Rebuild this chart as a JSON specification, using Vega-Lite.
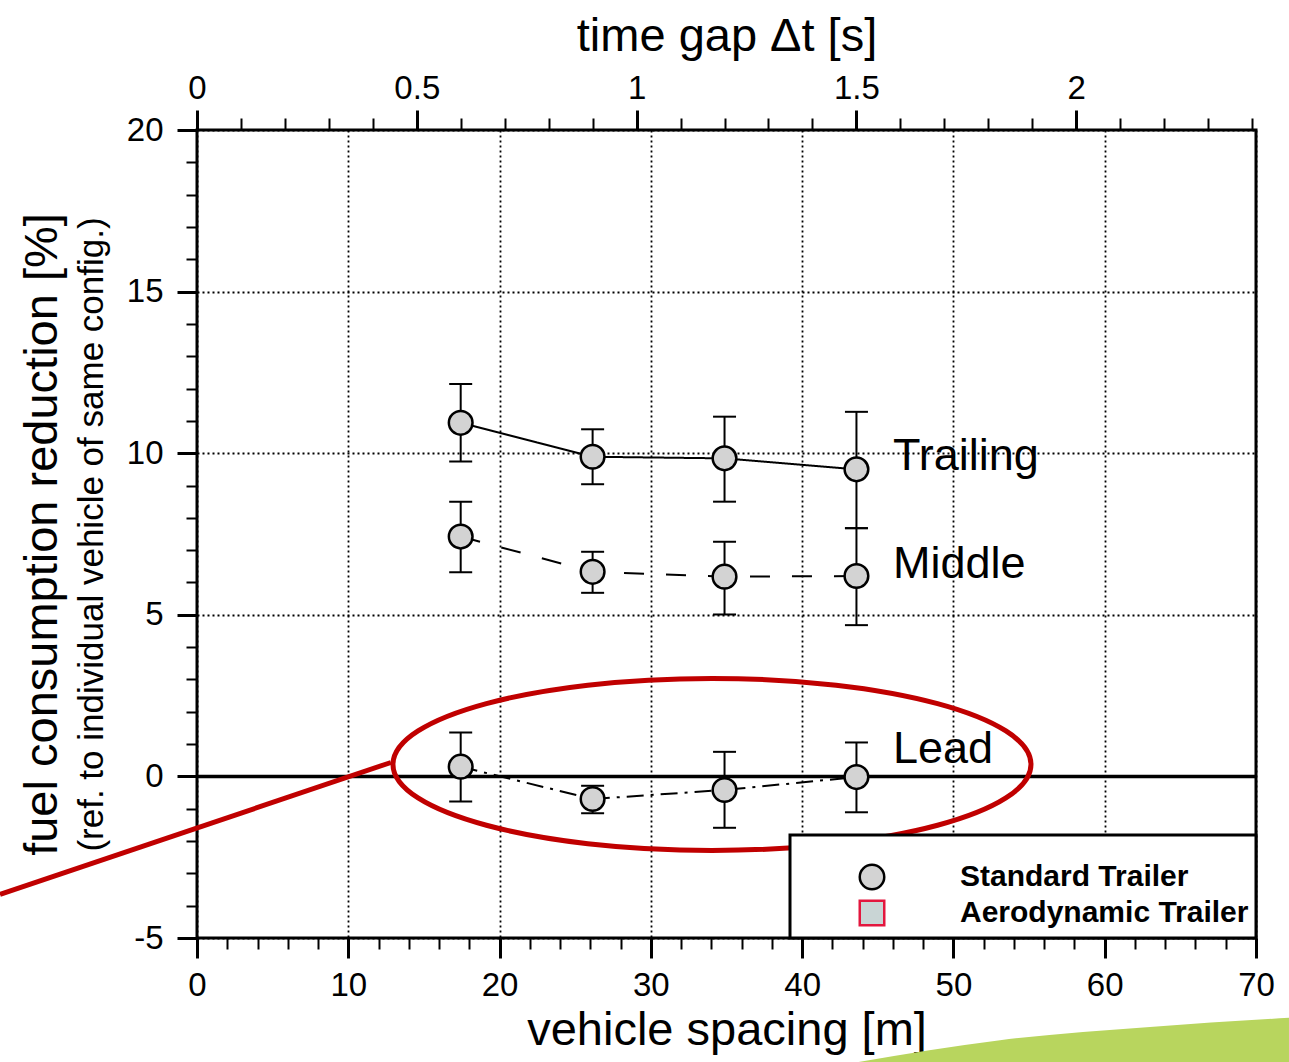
{
  "$schema": "https://vega.github.io/schema/vega-lite/v6.json",
  "width": 1059,
  "height": 808,
  "autosize": "none",
  "padding": {"left": 197, "top": 130, "right": 33, "bottom": 124},
  "background": "white",
  "config": {
    "font": "Liberation Sans",
    "view": {"stroke": "black", "strokeWidth": 3},
    "axis": {
      "domain": false,
      "tickColor": "black",
      "labelColor": "black",
      "titleColor": "black",
      "labelFont": "Liberation Sans",
      "titleFont": "Liberation Sans",
      "titleFontWeight": "normal",
      "labelFontSize": 33,
      "titleFontSize": 47,
      "labelFlush": false,
      "labelOverlap": false,
      "gridColor": "black",
      "gridDash": [2, 3],
      "gridWidth": 1.8,
      "gridOpacity": 1
    },
    "legend": {
      "orient": "bottom-right",
      "offset": 0,
      "padding": 7,
      "strokeColor": "black",
      "strokeWidth": 3,
      "fillColor": "white",
      "labelFont": "Liberation Sans",
      "labelFontWeight": "bold",
      "labelFontSize": 30,
      "labelColor": "black",
      "labelOffset": 73,
      "labelLimit": 500,
      "symbolOffset": 60,
      "symbolSize": 600,
      "symbolStrokeWidth": 2.5,
      "rowPadding": 0,
      "titleFontSize": 20,
      "titlePadding": 0
    }
  },
  "datasets": {
    "pts": [
      {"series": "Trailing", "trailer": "Standard Trailer", "timegap": 0.6, "spacing": 17.43, "value": 10.94, "lo": 9.74, "hi": 12.14},
      {"series": "Trailing", "trailer": "Standard Trailer", "timegap": 0.9, "spacing": 26.15, "value": 9.89, "lo": 9.04, "hi": 10.74},
      {"series": "Trailing", "trailer": "Standard Trailer", "timegap": 1.2, "spacing": 34.87, "value": 9.84, "lo": 8.5, "hi": 11.13},
      {"series": "Trailing", "trailer": "Standard Trailer", "timegap": 1.5, "spacing": 43.59, "value": 9.5, "lo": 7.68, "hi": 11.28},
      {"series": "Middle", "trailer": "Standard Trailer", "timegap": 0.6, "spacing": 17.43, "value": 7.42, "lo": 6.32, "hi": 8.5},
      {"series": "Middle", "trailer": "Standard Trailer", "timegap": 0.9, "spacing": 26.15, "value": 6.33, "lo": 5.68, "hi": 6.95},
      {"series": "Middle", "trailer": "Standard Trailer", "timegap": 1.2, "spacing": 34.87, "value": 6.18, "lo": 5.01, "hi": 7.26},
      {"series": "Middle", "trailer": "Standard Trailer", "timegap": 1.5, "spacing": 43.59, "value": 6.2, "lo": 4.68, "hi": 7.68},
      {"series": "Lead", "trailer": "Standard Trailer", "timegap": 0.6, "spacing": 17.43, "value": 0.3, "lo": -0.78, "hi": 1.36},
      {"series": "Lead", "trailer": "Standard Trailer", "timegap": 0.9, "spacing": 26.15, "value": -0.7, "lo": -1.14, "hi": -0.29},
      {"series": "Lead", "trailer": "Standard Trailer", "timegap": 1.2, "spacing": 34.87, "value": -0.42, "lo": -1.59, "hi": 0.76},
      {"series": "Lead", "trailer": "Standard Trailer", "timegap": 1.5, "spacing": 43.59, "value": -0.02, "lo": -1.11, "hi": 1.05}
    ],
    "labels": [
      {"label": "Trailing", "lx": 46.0, "ly": 9.48},
      {"label": "Middle", "lx": 46.0, "ly": 6.14},
      {"label": "Lead", "lx": 46.0, "ly": 0.41}
    ],
    "zero": [{"zx1": 0, "zx2": 70, "zy": 0}],
    "ellipse": [{"ex": 34.04, "ey": 0.37}],
    "pointer": [{"x1": -13.02, "y1": -3.65, "x2": 12.82, "y2": 0.43}],
    "decor": [
      {"gx": 43.69, "gy": -8.84},
      {"gx": 53.08, "gy": -8.16},
      {"gx": 62.99, "gy": -7.75},
      {"gx": 72.18, "gy": -7.47}
    ]
  },
  "resolve": {
    "scale": {"x": "independent"},
    "axis": {"x": "independent", "y": "independent"}
  },
  "layer": [
    {
      "data": {"name": "pts"},
      "mark": {"type": "point", "opacity": 0},
      "encoding": {
        "x": {"field": "spacing", "type": "quantitative",
          "scale": {"domain": [0, 70], "nice": false, "zero": false},
          "axis": {"orient": "bottom", "values": [0, 10, 20, 30, 40, 50, 60, 70], "tickSize": 20, "tickWidth": 3, "labelPadding": 11, "grid": true, "title": "vehicle spacing [m]", "titlePadding": 5}},
        "y": {"field": "value", "type": "quantitative",
          "scale": {"domain": [-5, 20], "nice": false, "zero": false},
          "axis": {"orient": "left", "values": [-5, 0, 5, 10, 15, 20], "tickSize": 20, "tickWidth": 3, "labelPadding": 14, "labelExpr": "toString(datum.value)", "grid": true, "title": "fuel consumption reduction [%]", "titlePadding": 60}}
      }
    },
    {
      "data": {"name": "pts"},
      "mark": {"type": "point", "opacity": 0},
      "encoding": {
        "x": {"field": "spacing", "type": "quantitative",
          "scale": {"domain": [0, 70], "nice": false, "zero": false},
          "axis": {"orient": "bottom", "values": [2, 4, 6, 8, 12, 14, 16, 18, 22, 24, 26, 28, 32, 34, 36, 38, 42, 44, 46, 48, 52, 54, 56, 58, 62, 64, 66, 68], "tickSize": 11, "tickWidth": 2, "labels": false, "grid": false, "title": null}},
        "y": {"field": "value", "type": "quantitative",
          "scale": {"domain": [-5, 20], "nice": false, "zero": false},
          "axis": {"orient": "left", "values": [-4, -3, -2, -1, 1, 2, 3, 4, 6, 7, 8, 9, 11, 12, 13, 14, 16, 17, 18, 19], "tickSize": 11, "tickWidth": 2, "labels": false, "grid": false, "title": "(ref. to individual vehicle of same config.)", "titleFontSize": 35, "titlePadding": 76}}
      }
    },
    {
      "data": {"name": "pts"},
      "mark": {"type": "point", "opacity": 0},
      "encoding": {
        "x": {"field": "timegap", "type": "quantitative",
          "scale": {"domain": [0, 2.40901], "nice": false, "zero": false},
          "axis": {"orient": "top", "values": [0, 0.5, 1, 1.5, 2], "format": "~g", "tickSize": 20, "tickWidth": 3, "labelPadding": 5, "grid": false, "title": "time gap Δt [s]", "titlePadding": 12}},
        "y": {"field": "value", "type": "quantitative", "axis": null}
      }
    },
    {
      "data": {"name": "pts"},
      "mark": {"type": "point", "opacity": 0},
      "encoding": {
        "x": {"field": "timegap", "type": "quantitative",
          "scale": {"domain": [0, 2.40901], "nice": false, "zero": false},
          "axis": {"orient": "top", "values": [0.1, 0.2, 0.3, 0.4, 0.6, 0.7, 0.8, 0.9, 1.1, 1.2, 1.3, 1.4, 1.6, 1.7, 1.8, 1.9, 2.1, 2.2, 2.3, 2.4], "tickSize": 12, "tickWidth": 2, "labels": false, "grid": false, "title": null}},
        "y": {"field": "value", "type": "quantitative", "axis": null}
      }
    },
    {
      "data": {"name": "zero"},
      "mark": {"type": "rule", "color": "black", "strokeWidth": 3.5},
      "encoding": {
        "x": {"field": "zx1", "type": "quantitative", "scale": {"domain": [0, 70], "nice": false, "zero": false}, "axis": null},
        "x2": {"field": "zx2"},
        "y": {"field": "zy", "type": "quantitative", "axis": null}
      }
    },
    {
      "data": {"name": "pts"},
      "mark": {"type": "rule", "color": "black", "strokeWidth": 2},
      "encoding": {
        "x": {"field": "spacing", "type": "quantitative", "scale": {"domain": [0, 70], "nice": false, "zero": false}, "axis": null},
        "y": {"field": "lo", "type": "quantitative", "axis": null},
        "y2": {"field": "hi"}
      }
    },
    {
      "data": {"name": "pts"},
      "mark": {"type": "tick", "orient": "horizontal", "color": "black", "size": 23, "thickness": 2, "opacity": 1},
      "encoding": {
        "x": {"field": "spacing", "type": "quantitative", "scale": {"domain": [0, 70], "nice": false, "zero": false}, "axis": null},
        "y": {"field": "lo", "type": "quantitative", "axis": null}
      }
    },
    {
      "data": {"name": "pts"},
      "mark": {"type": "tick", "orient": "horizontal", "color": "black", "size": 23, "thickness": 2, "opacity": 1},
      "encoding": {
        "x": {"field": "spacing", "type": "quantitative", "scale": {"domain": [0, 70], "nice": false, "zero": false}, "axis": null},
        "y": {"field": "hi", "type": "quantitative", "axis": null}
      }
    },
    {
      "data": {"name": "pts"},
      "mark": {"type": "line", "color": "black", "strokeWidth": 2},
      "encoding": {
        "x": {"field": "spacing", "type": "quantitative", "scale": {"domain": [0, 70], "nice": false, "zero": false}, "axis": null},
        "y": {"field": "value", "type": "quantitative", "axis": null},
        "detail": {"field": "series"},
        "strokeDash": {"field": "series", "type": "nominal",
          "scale": {"domain": ["Trailing", "Middle", "Lead"], "range": [[1, 0], [20, 22], [17, 7, 3, 7]]},
          "legend": null}
      }
    },
    {
      "data": {"name": "pts"},
      "mark": {"type": "point", "filled": true, "size": 560, "strokeWidth": 2.5, "opacity": 1},
      "encoding": {
        "x": {"field": "spacing", "type": "quantitative", "scale": {"domain": [0, 70], "nice": false, "zero": false}, "axis": null},
        "y": {"field": "value", "type": "quantitative", "axis": null},
        "shape": {"field": "trailer", "type": "nominal",
          "scale": {"domain": ["Standard Trailer", "Aerodynamic Trailer"], "range": ["circle", "square"]},
          "legend": {"title": " ", "zindex": 0}},
        "fill": {"field": "trailer", "type": "nominal",
          "scale": {"domain": ["Standard Trailer", "Aerodynamic Trailer"], "range": ["#d3d3d3", "#c9d5d5"]},
          "legend": {"title": " ", "zindex": 0}},
        "stroke": {"field": "trailer", "type": "nominal",
          "scale": {"domain": ["Standard Trailer", "Aerodynamic Trailer"], "range": ["#000000", "#e3173e"]},
          "legend": {"title": " ", "zindex": 0}}
      }
    },
    {
      "data": {"name": "labels"},
      "mark": {"type": "text", "align": "left", "baseline": "alphabetic", "fontSize": 45, "font": "Liberation Sans", "color": "black"},
      "encoding": {
        "x": {"field": "lx", "type": "quantitative", "scale": {"domain": [0, 70], "nice": false, "zero": false}, "axis": null},
        "y": {"field": "ly", "type": "quantitative", "axis": null},
        "text": {"field": "label"}
      }
    },
    {
      "data": {"name": "pointer"},
      "mark": {"type": "rule", "color": "#c00000", "strokeWidth": 5, "strokeCap": "butt"},
      "encoding": {
        "x": {"field": "x1", "type": "quantitative", "scale": {"domain": [0, 70], "nice": false, "zero": false}, "axis": null},
        "y": {"field": "y1", "type": "quantitative", "axis": null},
        "x2": {"field": "x2"},
        "y2": {"field": "y2"}
      }
    },
    {
      "data": {"name": "ellipse"},
      "mark": {"type": "point", "filled": false, "color": "#c00000", "strokeWidth": 5, "opacity": 1, "size": 407044,
        "shape": "M -1 0 C -1 -0.1489 -0.5523 -0.2696 0 -0.2696 C 0.5523 -0.2696 1 -0.1489 1 0 C 1 0.1489 0.5523 0.2696 0 0.2696 C -0.5523 0.2696 -1 0.1489 -1 0 Z"},
      "encoding": {
        "x": {"field": "ex", "type": "quantitative", "scale": {"domain": [0, 70], "nice": false, "zero": false}, "axis": null},
        "y": {"field": "ey", "type": "quantitative", "axis": null}
      }
    },
    {
      "data": {"name": "decor"},
      "mark": {"type": "area", "color": "#b8d55e", "interpolate": "monotone", "opacity": 1},
      "encoding": {
        "x": {"field": "gx", "type": "quantitative", "scale": {"domain": [0, 70], "nice": false, "zero": false}, "axis": null},
        "y": {"field": "gy", "type": "quantitative", "axis": null},
        "y2": {"datum": -10}
      }
    }
  ]
}
